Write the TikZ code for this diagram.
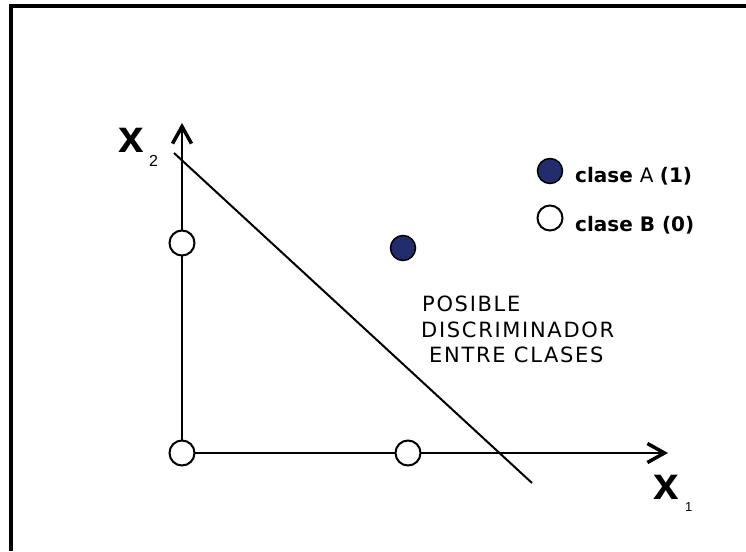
\documentclass[tikz,border=0pt]{standalone}
\usepackage{fontspec}
\setmainfont{DejaVu Sans}
\newfontfamily\xfont{Liberation Sans}
\usetikzlibrary{arrows.meta}
\definecolor{navyA}{RGB}{35,45,110}
\tikzset{
  axis/.style={line width=2pt, -{Straight Barb[length=17pt,width=19pt,line width=3.5pt]}},
  hollow/.style={circle, draw=black, line width=2pt, fill=white, minimum size=25pt, inner sep=0pt},
  filled/.style={circle, draw=black, line width=1.5pt, fill=navyA, minimum size=25pt, inner sep=0pt},
  lbl/.style={anchor=base west, inner sep=0pt, font=\fontsize{20}{24}\selectfont},
  txt/.style={anchor=base west, inner sep=0pt, font=\fontsize{21}{24}\selectfont\addfontfeature{LetterSpace=8}},
  axlbl/.style={anchor=base west, inner sep=0pt, font=\xfont\bfseries\fontsize{46}{48}\selectfont},
  sublbl/.style={anchor=base west, inner sep=0pt, font=\xfont\fontsize{16}{18}\selectfont}
}
\begin{document}
\begin{tikzpicture}[x=1pt,y=1pt]
\useasboundingbox (0,0) rectangle (746,551);
% frame
\coordinate (fb) at (11,0);
\coordinate (fc) at (11,545);
\coordinate (fr) at (746,545);
\draw[line width=4pt] (fb) -- (fc) -- (fr);
% axes
\coordinate (O) at (182,98);
\coordinate (ytip) at (182,428);
\coordinate (xtip) at (668,98);
\draw[axis] (O) -- (ytip);
\draw[axis] (O) -- (xtip);
% discriminator
\coordinate (dA) at (174,398);
\coordinate (dB) at (532,68);
\draw[line width=2pt] (dA) -- (dB);
% points
\node[hollow] (p01) at (182,308) {};
\node[hollow] (p00) at (182,98) {};
\node[hollow] (p10) at (408,98) {};
\node[filled] (p11) at (403,303) {};
% legend
\node[filled] (legA) at (550,380) {};
\node[hollow] (legB) at (550,333) {};
\node[lbl] (tA) at (575,368) {\bfseries clase \mdseries A \bfseries (1)};
\node[lbl] (tB) at (575,319) {\bfseries clase B (0)};
% text
\node[txt] (t1) at (422,239) {POSIBLE};
\node[txt] (t2) at (421,213) {DISCRIMINADOR};
\node[txt] (t3) at (429,188) {ENTRE CLASES};
% axis labels
\node[axlbl] (x2) at (118,398) {x};
\node[sublbl] (x2s) at (149,384) {2};
\node[axlbl] (x1) at (653,51) {x};
\node[sublbl, font=\xfont\fontsize{13}{15}\selectfont] (x1s) at (685,39) {1};
\end{tikzpicture}
\end{document}
